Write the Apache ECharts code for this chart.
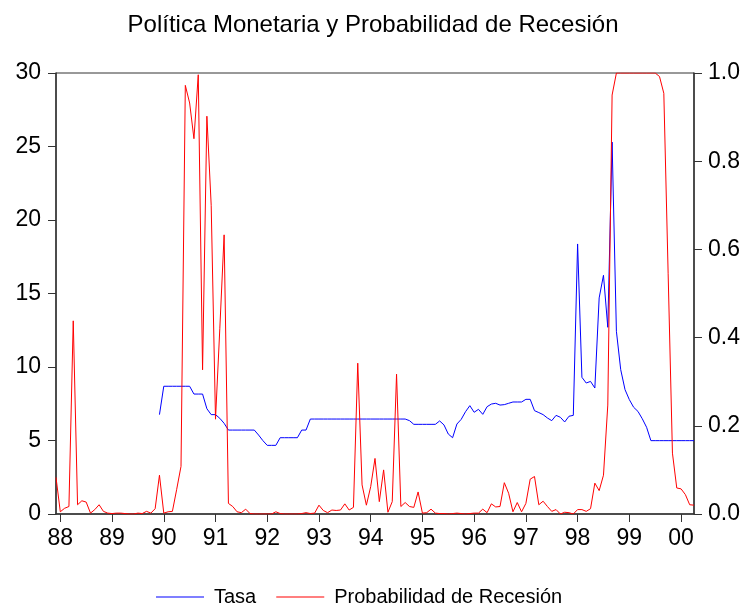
<!DOCTYPE html>
<html>
<head>
<meta charset="utf-8">
<script src="https://cdn.jsdelivr.net/npm/echarts@6/dist/echarts.min.js"></script>
<style>
  html, body { margin: 0; padding: 0; background: #fff; }
  #chart { width: 746px; height: 604px; }
</style>
</head>
<body>
<div id="chart"></div>
<script type="text/javascript">
// meses: 1987:12 .. 2000:04
var startYear = 1987, startMonth = 12, nMonths = 149;
var months = [];
for (var k = 0; k < nMonths; k++) {
	var m = (startMonth - 1 + k) % 12 + 1;
	var y = startYear + Math.floor((startMonth - 1 + k) / 12);
	months.push(y + '-' + (m < 10 ? '0' + m : m));
}

// Tasa (eje izquierdo), sin datos antes de 1989:12
var tasa = [
	null, null, null, null, null, null, null, null, null, null, null, null,
	null, null, null, null, null, null, null, null, null, null, null, null,
	6.76, 8.69, 8.69, 8.69, 8.69, 8.69, 8.69, 8.69, 8.16, 8.16, 8.16, 7.16,
	6.76, 6.76, 6.51, 6.17, 5.71, 5.71, 5.71, 5.71, 5.71, 5.71, 5.71, 5.37,
	4.99, 4.67, 4.67, 4.67, 5.19, 5.19, 5.19, 5.19, 5.19, 5.71, 5.71, 6.46,
	6.46, 6.46, 6.46, 6.46, 6.46, 6.46, 6.46, 6.46, 6.46, 6.46, 6.46, 6.46,
	6.46, 6.46, 6.46, 6.46, 6.46, 6.46, 6.46, 6.46, 6.46, 6.46, 6.35, 6.10,
	6.10, 6.10, 6.10, 6.10, 6.10, 6.33, 6.06, 5.44, 5.19, 6.12, 6.44, 6.96,
	7.37, 6.92, 7.12, 6.78, 7.30, 7.48, 7.53, 7.41, 7.44, 7.53, 7.62, 7.62,
	7.62, 7.80, 7.80, 7.03, 6.90, 6.76, 6.53, 6.35, 6.71, 6.58, 6.26, 6.65,
	6.71, 18.37, 9.30, 8.91, 9.02, 8.57, 14.70, 16.24, 12.70, 25.30, 12.43, 9.82,
	8.46, 7.78, 7.26, 6.98, 6.48, 5.90, 4.99, 4.99, 4.99, 4.99, 4.99, 4.99,
	4.99, 4.99, 4.99, 4.99, 4.99
];

// Probabilidad de recesión (eje derecho)
var probabilidad = [
	0.083, 0.005, 0.013, 0.017, 0.438, 0.021, 0.030, 0.027, 0.002, 0.010, 0.021, 0.006,
	0.002, 0.001, 0.002, 0.002, 0.001, 0.000, 0.000, 0.002, 0.001, 0.006, 0.002, 0.012,
	0.088, 0.002, 0.005, 0.006, 0.056, 0.108, 0.972, 0.932, 0.851, 0.996, 0.327, 0.902,
	0.700, 0.215, 0.420, 0.633, 0.024, 0.017, 0.005, 0.003, 0.011, 0.001, 0.000, 0.000,
	0.000, 0.000, 0.000, 0.005, 0.001, 0.000, 0.000, 0.000, 0.000, 0.001, 0.003, 0.001,
	0.002, 0.020, 0.008, 0.003, 0.009, 0.008, 0.009, 0.023, 0.009, 0.015, 0.342, 0.066,
	0.020, 0.062, 0.126, 0.028, 0.100, 0.004, 0.028, 0.317, 0.017, 0.026, 0.017, 0.015,
	0.050, 0.002, 0.003, 0.011, 0.002, 0.001, 0.001, 0.000, 0.001, 0.002, 0.001, 0.000,
	0.001, 0.002, 0.002, 0.011, 0.003, 0.023, 0.016, 0.017, 0.071, 0.047, 0.005, 0.026,
	0.005, 0.024, 0.079, 0.085, 0.021, 0.029, 0.017, 0.006, 0.010, 0.000, 0.004, 0.003,
	0.000, 0.010, 0.010, 0.006, 0.012, 0.070, 0.053, 0.088, 0.247, 0.950, 1.000, 1.000,
	1.000, 1.000, 1.000, 1.000, 1.000, 1.000, 1.000, 1.000, 0.992, 0.954, 0.546, 0.138,
	0.059, 0.057, 0.044, 0.021, 0.020
];

var fuente = 'Liberation Sans, Arial, sans-serif';
var ejeColor = '#333333';

function esEnero(index, value) {
	return value.slice(5) === '01';
}

var myChart = echarts.init(document.getElementById('chart'));

var option = {
	animation: false,
	backgroundColor: '#ffffff',
	title: {
		text: 'Política Monetaria y Probabilidad de Recesión',
		left: 'center',
		top: 8,
		textStyle: { fontFamily: fuente, fontSize: 24, fontWeight: 'normal', color: '#000' }
	},
	legend: {
		top: 582,
		left: 151,
		icon: 'rect',
		itemWidth: 48,
		itemHeight: 1,
		itemGap: 20,
		textStyle: { fontFamily: fuente, fontSize: 20, color: '#000', padding: [0, 0, 0, 5] },
		data: ['Tasa', 'Probabilidad de Recesión']
	},
	grid: {
		left: 56,
		right: 52,
		top: 73,
		bottom: 90,
		show: true,
		borderColor: ejeColor,
		borderWidth: 1
	},
	xAxis: {
		type: 'category',
		boundaryGap: false,
		data: months,
		axisLine: { lineStyle: { color: ejeColor, width: 1.5 } },
		axisTick: { interval: esEnero, length: 8, lineStyle: { color: ejeColor } },
		axisLabel: {
			interval: esEnero,
			margin: 13,
			fontFamily: fuente,
			fontSize: 23,
			color: '#000',
			formatter: function (v) { return v.slice(2, 4); }
		},
		splitLine: { show: false }
	},
	yAxis: [
		{
			type: 'value',
			min: 0,
			max: 30,
			interval: 5,
			axisLine: { show: true, lineStyle: { color: ejeColor, width: 1.5 } },
			axisTick: { show: true, length: 8, lineStyle: { color: ejeColor } },
			axisLabel: { margin: 15, fontFamily: fuente, fontSize: 23, color: '#000' },
			splitLine: { show: false }
		},
		{
			type: 'value',
			min: 0,
			max: 1,
			interval: 0.2,
			position: 'right',
			axisLine: { show: true, lineStyle: { color: ejeColor, width: 1.5 } },
			axisTick: { show: true, length: 8, lineStyle: { color: ejeColor } },
			axisLabel: {
				margin: 14,
				fontFamily: fuente,
				fontSize: 23,
				color: '#000',
				formatter: function (v) { return v.toFixed(1); }
			},
			splitLine: { show: false }
		}
	],
	series: [
		{
			name: 'Tasa',
			type: 'line',
			yAxisIndex: 0,
			symbol: 'none',
			connectNulls: false,
			lineStyle: { color: '#0000ff', width: 1 },
			itemStyle: { color: '#0000ff' },
			data: tasa
		},
		{
			name: 'Probabilidad de Recesión',
			type: 'line',
			yAxisIndex: 1,
			symbol: 'none',
			lineStyle: { color: '#ff0000', width: 1 },
			itemStyle: { color: '#ff0000' },
			data: probabilidad
		}
	]
};

myChart.setOption(option);
</script>
</body>
</html>
